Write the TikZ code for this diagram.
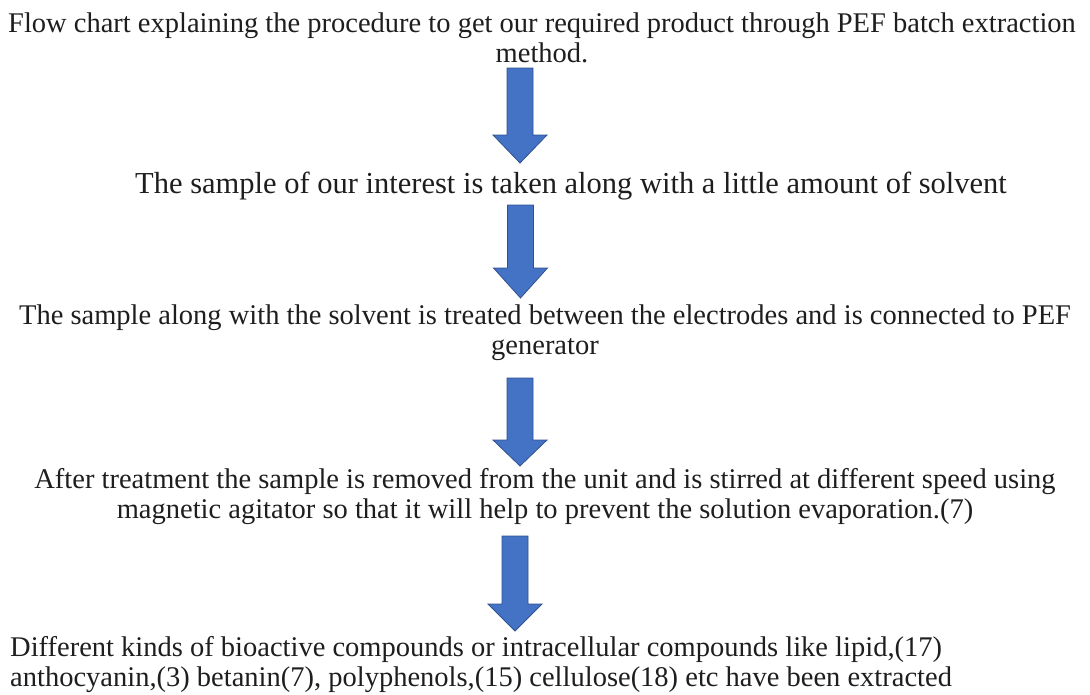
\documentclass[tikz,border=0pt]{standalone}
\usepackage{fontspec}
\setmainfont{Liberation Serif}
\definecolor{arrowfill}{HTML}{4472C4}
\definecolor{arrowline}{HTML}{2F528F}
\definecolor{ink}{HTML}{1E1E1E}
% block arrow: centre x, top of shaft, start of head, tip
\newcommand\flowarrow[4]{%
  \draw[blockarrow] ({#1-13},#2) -- ({#1+13},#2) -- ({#1+13},#3) -- ({#1+27},#3)
    -- (#1,#4) -- ({#1-27},#3) -- ({#1-13},#3) -- cycle;}
\begin{document}
\begin{tikzpicture}[x=1pt,y=-1pt,
  steptext/.style={text=ink,font=\fontsize{28.5}{30}\selectfont,inner sep=0pt,align=center},
  blockarrow/.style={fill=arrowfill,draw=arrowline,line width=0.8pt,line join=miter}]
\useasboundingbox (0,0) rectangle (1090,694);
\node[steptext] (title) at (542,38) {Flow chart explaining the procedure to get our required product through PEF batch extraction\\method.};
\node[steptext,font=\fontsize{30.5}{30}\selectfont] (s1) at (571,186) {The sample of our interest is taken along with a little amount of solvent};
\node[steptext] (s2) at (545,333) {The sample along with the solvent is treated between the electrodes and is connected to PEF\\generator};
\node[steptext] (s3) at (545,497) {After treatment the sample is removed from the unit and is stirred at different speed using\\magnetic agitator so that it will help to prevent the solution evaporation.(7)};
\node[steptext,align=left,anchor=west] (s4) at (10,665) {Different kinds of bioactive compounds or intracellular compounds like lipid,(17)\\anthocyanin,(3) betanin(7), polyphenols,(15) cellulose(18) etc have been extracted};
\flowarrow{520}{68}{135}{163}
\flowarrow{520.5}{205}{268}{298}
\flowarrow{520}{378}{440}{466}
\flowarrow{515}{536}{604}{631}
\end{tikzpicture}
\end{document}
